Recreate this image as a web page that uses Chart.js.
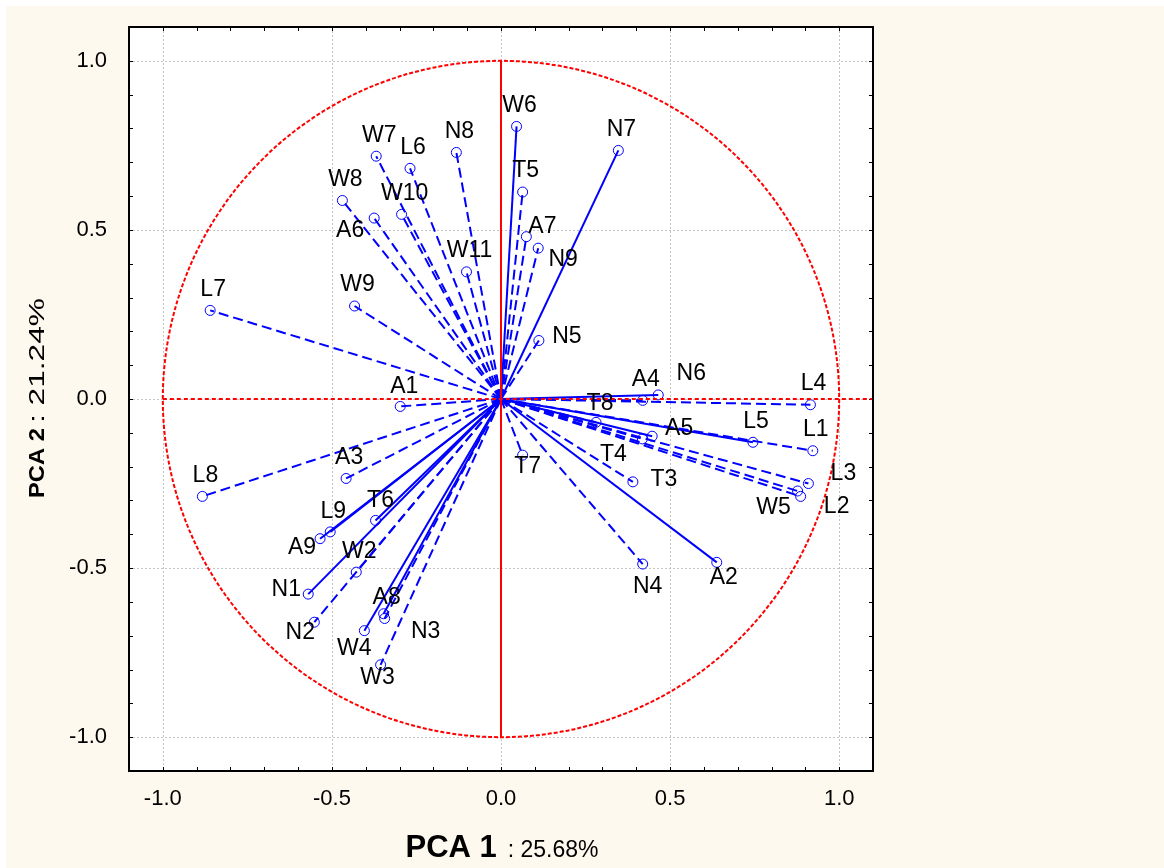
<!DOCTYPE html>
<html><head><meta charset="utf-8">
<script src="https://cdn.jsdelivr.net/npm/chart.js@4.4.1/dist/chart.umd.min.js"></script>
<style>html,body{margin:0;padding:0;background:#fff;}canvas{display:block;}</style>
</head><body>
<canvas id="c" width="1164" height="868"></canvas>
<script>
// ---------- data ----------
const variables = ['W6','N7','T5','A7','N9','N8','W7','L6','W8','A6','W10','W11','L7','W9','A1','A3','L8','T6','L9','A9','W2','N1','N2','A8','N3','W4','W3','N5','A4','N6','L4','T8','A5','T4','L5','L1','L3','W5','L2','T7','T3','N4','A2'];
const pca1 = [0.046,0.347,0.064,0.075,0.110,-0.132,-0.369,-0.269,-0.469,-0.375,-0.294,-0.102,-0.860,-0.433,-0.298,-0.458,-0.883,-0.371,-0.505,-0.535,-0.428,-0.570,-0.552,-0.347,-0.344,-0.404,-0.356,0.112,0.419,0.465,0.915,0.281,0.447,0.418,0.745,0.922,0.909,0.877,0.886,0.064,0.390,0.419,0.638];
const pca2 = [0.806,0.735,0.612,0.480,0.446,0.729,0.718,0.682,0.587,0.535,0.546,0.376,0.262,0.275,-0.022,-0.235,-0.288,-0.359,-0.393,-0.413,-0.512,-0.577,-0.660,-0.635,-0.649,-0.685,-0.786,0.173,-0.004,0.012,-0.017,-0.069,-0.110,-0.118,-0.128,-0.153,-0.250,-0.272,-0.288,-0.166,-0.245,-0.488,-0.483];
const tickValues = [-1.0,-0.5,0.0,0.5,1.0];
const xTitle = ['PCA 1', ': 25.68%'];
const yTitle = ['PCA 2', ': 21.24%'];

// ---------- styles ----------
const solidVars = ['W6','N7','T6','L9','A9','N1','A8','W4','N6','A5','L5','A2'];
const labelOffsets = {A7:[16,-10],N9:[25,11],A6:[-24,13],A9:[-18,9],N1:[-22,-4],N2:[-14,10],A8:[3,-16],N3:[41,13],W4:[-10,18],W3:[-3,13],N5:[28,-4],N6:[33,-21],A5:[27,-8],T4:[-29,16],L3:[35,-10],W5:[-24,17],L2:[36,10],T7:[5,12],T3:[31,-2],N4:[5,23],A2:[7,15],T8:[4,-19],A1:[4,-20],L9:[3,-20],T6:[5,-20],W2:[3,-20]};
const defaultOffset = [3,-21];
const FONT = "'Liberation Sans', Arial, sans-serif";
const BLUE = '#0000ff', RED = '#ff0000';

const bgPlugin = {
  id:'bg',
  beforeDraw(chart){
    const c = chart.ctx;
    c.save();
    c.fillStyle = '#ffffff'; c.fillRect(0,0,chart.width,chart.height);
    c.fillStyle = '#fef9ee'; c.fillRect(6,6,chart.width-6,chart.height-6);
    const a = chart.chartArea;
    c.fillStyle = '#ffffff'; c.fillRect(a.left,a.top,a.right-a.left,a.bottom-a.top);
    c.restore();
  }
};

const decorPlugin = {
  id:'decor',
  beforeDatasetsDraw(chart){
    const c = chart.ctx, a = chart.chartArea, xs = chart.scales.x, ys = chart.scales.y;
    c.save();
    c.strokeStyle = '#c4c4c4'; c.lineWidth = 1; c.setLineDash([2,2]);
    tickValues.forEach(v=>{
      const px = Math.round(xs.getPixelForValue(v))+0.5;
      c.beginPath(); c.moveTo(px,a.top); c.lineTo(px,a.bottom); c.stroke();
      const py = Math.round(ys.getPixelForValue(v))+0.5;
      c.beginPath(); c.moveTo(a.left,py); c.lineTo(a.right,py); c.stroke();
    });
    c.setLineDash([]);
    c.strokeStyle = '#000'; c.lineWidth = 1;
    for(let k=-11;k<=11;k++){
      const v = k/10;
      const px = Math.round(xs.getPixelForValue(v))+0.5;
      const py = Math.round(ys.getPixelForValue(v))+0.5;
      c.beginPath();
      c.moveTo(px,a.bottom); c.lineTo(px,a.bottom-4);
      c.moveTo(px,a.top); c.lineTo(px,a.top+4);
      c.moveTo(a.left,py); c.lineTo(a.left+4,py);
      c.moveTo(a.right,py); c.lineTo(a.right-4,py);
      c.stroke();
    }
    c.restore();
  },
  afterDatasetsDraw(chart){
    const c = chart.ctx, a = chart.chartArea, xs = chart.scales.x, ys = chart.scales.y;
    const cx = xs.getPixelForValue(0), cy = ys.getPixelForValue(0);
    const r = xs.getPixelForValue(1) - cx, ry = cy - ys.getPixelForValue(1);
    c.save();
    c.strokeStyle = RED; c.lineWidth = 2; c.setLineDash([4,2]);
    c.beginPath(); c.ellipse(cx,cy,r,ry,0,0,Math.PI*2); c.stroke();
    c.setLineDash([4,3]);
    c.beginPath(); c.moveTo(xs.getPixelForValue(-1),cy); c.lineTo(a.right,cy); c.stroke();
    c.setLineDash([]);
    c.beginPath(); c.moveTo(cx,ys.getPixelForValue(1)); c.lineTo(cx,ys.getPixelForValue(-1)); c.stroke();
    c.strokeStyle = '#000'; c.lineWidth = 2;
    c.strokeRect(a.left,a.top,a.right-a.left,a.bottom-a.top);
    c.fillStyle = '#000'; c.font = '23px '+FONT; c.textAlign='center'; c.textBaseline='middle';
    variables.forEach((v,i)=>{
      const o = labelOffsets[v] || defaultOffset;
      c.fillText(v, xs.getPixelForValue(pca1[i])+o[0], ys.getPixelForValue(pca2[i])+o[1]);
    });
    const mid = (a.left+a.right)/2;
    c.textAlign='left'; c.textBaseline='alphabetic';
    c.font = 'bold 31px '+FONT; const w1 = c.measureText(xTitle[0]).width;
    c.font = '23px '+FONT; const w2 = c.measureText(xTitle[1]).width;
    const gap = 11, total = w1+gap+w2;
    let x0 = mid - total/2 + 1;
    c.font = 'bold 31px '+FONT; c.fillText(xTitle[0], x0, 857);
    c.font = '23px '+FONT; c.fillText(xTitle[1], x0+w1+gap, 857);
    c.save();
    c.translate(44, 498); c.rotate(-Math.PI/2);
    c.font = 'bold 22px '+FONT; const m1 = c.measureText(yTitle[0]).width;
    c.save(); c.scale(70/m1,1); c.fillText(yTitle[0],0,0); c.restore();
    c.font = '22px '+FONT; const m2 = c.measureText(yTitle[1]).width;
    c.save(); c.translate(75,0); c.scale(125/m2,1); c.fillText(yTitle[1],0,0); c.restore();
    c.restore();
    c.restore();
  }
};

const tickCfg = {
  color:'#000', font:{family:FONT, size:22},
  callback:v=>Number(v).toFixed(1)
};

new Chart(document.getElementById('c'), {
  type:'scatter',
  data:{datasets: variables.map((v,i)=>({
    label:v,
    data:[{x:0,y:0},{x:pca1[i],y:pca2[i]}],
    showLine:true,
    borderColor:BLUE,
    borderWidth:2,
    borderDash: solidVars.includes(v)?[]:[10,5],
    pointRadius:[0,5],
    pointHoverRadius:[0,5],
    pointBorderColor:BLUE,
    pointBackgroundColor:'rgba(0,0,0,0)',
    pointBorderWidth:1,
    clip:false
  }))},
  options:{
    responsive:false, animation:false, devicePixelRatio:1,
    layout:{padding:{left:0,top:27,right:291,bottom:0}},
    plugins:{legend:{display:false},tooltip:{enabled:false}},
    events:[],
    scales:{
      x:{type:'linear',min:-1.1,max:1.1,
        afterBuildTicks:s=>{s.ticks=tickValues.map(v=>({value:v}));},
        ticks:Object.assign({padding:15,maxRotation:0},tickCfg),
        grid:{display:false,drawTicks:false},border:{display:false},
        afterFit:s=>{s.height=97;s.paddingLeft=0;s.paddingRight=0;}},
      y:{type:'linear',min:-1.1,max:1.1,
        afterBuildTicks:s=>{s.ticks=tickValues.map(v=>({value:v}));},
        ticks:Object.assign({padding:22},tickCfg),
        grid:{display:false,drawTicks:false},border:{display:false},
        afterFit:s=>{s.width=129;s.paddingTop=0;s.paddingBottom=0;}}
    }
  },
  plugins:[bgPlugin, decorPlugin]
});
</script>
</body></html>
